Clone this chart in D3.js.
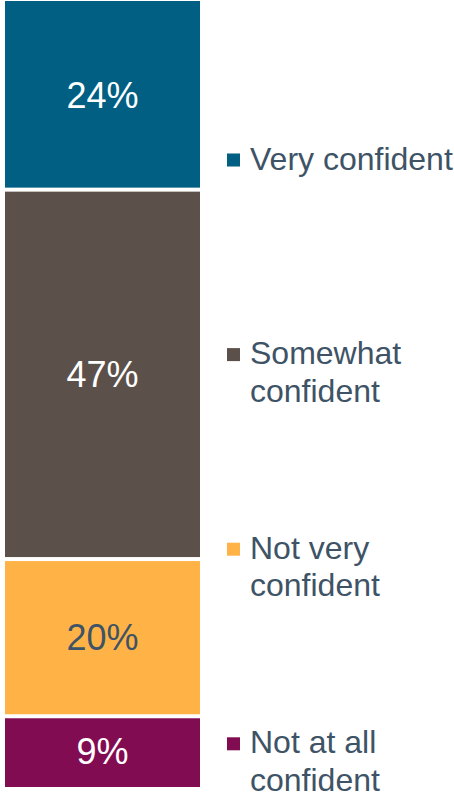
<!DOCTYPE html>
<html>
<head>
<meta charset="utf-8">
<script src="https://cdn.jsdelivr.net/npm/d3@7"></script>
<style>
  html, body { margin: 0; padding: 0; background: #ffffff; }
  svg { display: block; }
</style>
</head>
<body>
<div id="chart"></div>
<script>
// ---- data ----
const categories = ["Very confident", "Somewhat confident", "Not very confident", "Not at all confident"];
const values = [24, 47, 20, 9];
const legendLines = [["Very confident"], ["Somewhat", "confident"], ["Not very", "confident"], ["Not at all", "confident"]];
const colors = ["#005f83", "#5c504b", "#ffb347", "#820c52"];
const labelColors = ["#ffffff", "#ffffff", "#3e5366", "#ffffff"];
const valueLabels = values.map(v => v + "%");

// ---- layout ----
const W = 454, H = 797;
const gap = 2;
const svg = d3.select("#chart").append("svg").attr("width", W).attr("height", H);

const x = d3.scaleBand().domain(["all"]).range([5, 200]).padding(0);
const y = d3.scaleLinear().domain([0, 100]).range([1, 787]);

let cum = 0;
const segs = values.map((v, i) => {
  const s = { i, start: cum, end: cum + v, v };
  cum += v;
  return s;
});
const n = segs.length;

const g = svg.append("g");
g.selectAll("rect.seg").data(segs).join("rect")
  .attr("class", "seg")
  .attr("x", x("all"))
  .attr("width", x.bandwidth())
  .attr("y", d => y(d.start) + (d.i > 0 ? gap : 0))
  .attr("height", d => y(d.end) - y(d.start) - (d.i > 0 ? gap : 0) - (d.i < n - 1 ? gap : 0))
  .attr("fill", d => colors[d.i]);

g.selectAll("text.val").data(segs).join("text")
  .attr("class", "val")
  .attr("x", x("all") + x.bandwidth() / 2)
  .attr("y", d => (y(d.start) + y(d.end)) / 2)
  .attr("dy", "0.35em")
  .attr("text-anchor", "middle")
  .attr("font-family", "Liberation Sans, Arial, sans-serif")
  .attr("font-size", 36)
  .attr("fill", d => labelColors[d.i])
  .text(d => valueLabels[d.i]);

// ---- legend ----
const ly = d3.scalePoint().domain(categories).range([169.5, 753.3]);
const lineH = 37.5;
const leg = svg.append("g").selectAll("g").data(categories).join("g")
  .attr("transform", c => `translate(0,${ly(c)})`);

leg.append("rect")
  .attr("x", 227).attr("y", -16).attr("width", 13).attr("height", 13)
  .attr("fill", (c, i) => colors[i]);

leg.append("text")
  .attr("x", 250)
  .attr("font-family", "Liberation Sans, Arial, sans-serif")
  .attr("font-size", 32)
  .attr("fill", "#3e5366")
  .selectAll("tspan").data((c, i) => legendLines[i]).join("tspan")
  .attr("x", 250)
  .attr("y", (d, j) => j * lineH)
  .text(d => d);
</script>
</body>
</html>
